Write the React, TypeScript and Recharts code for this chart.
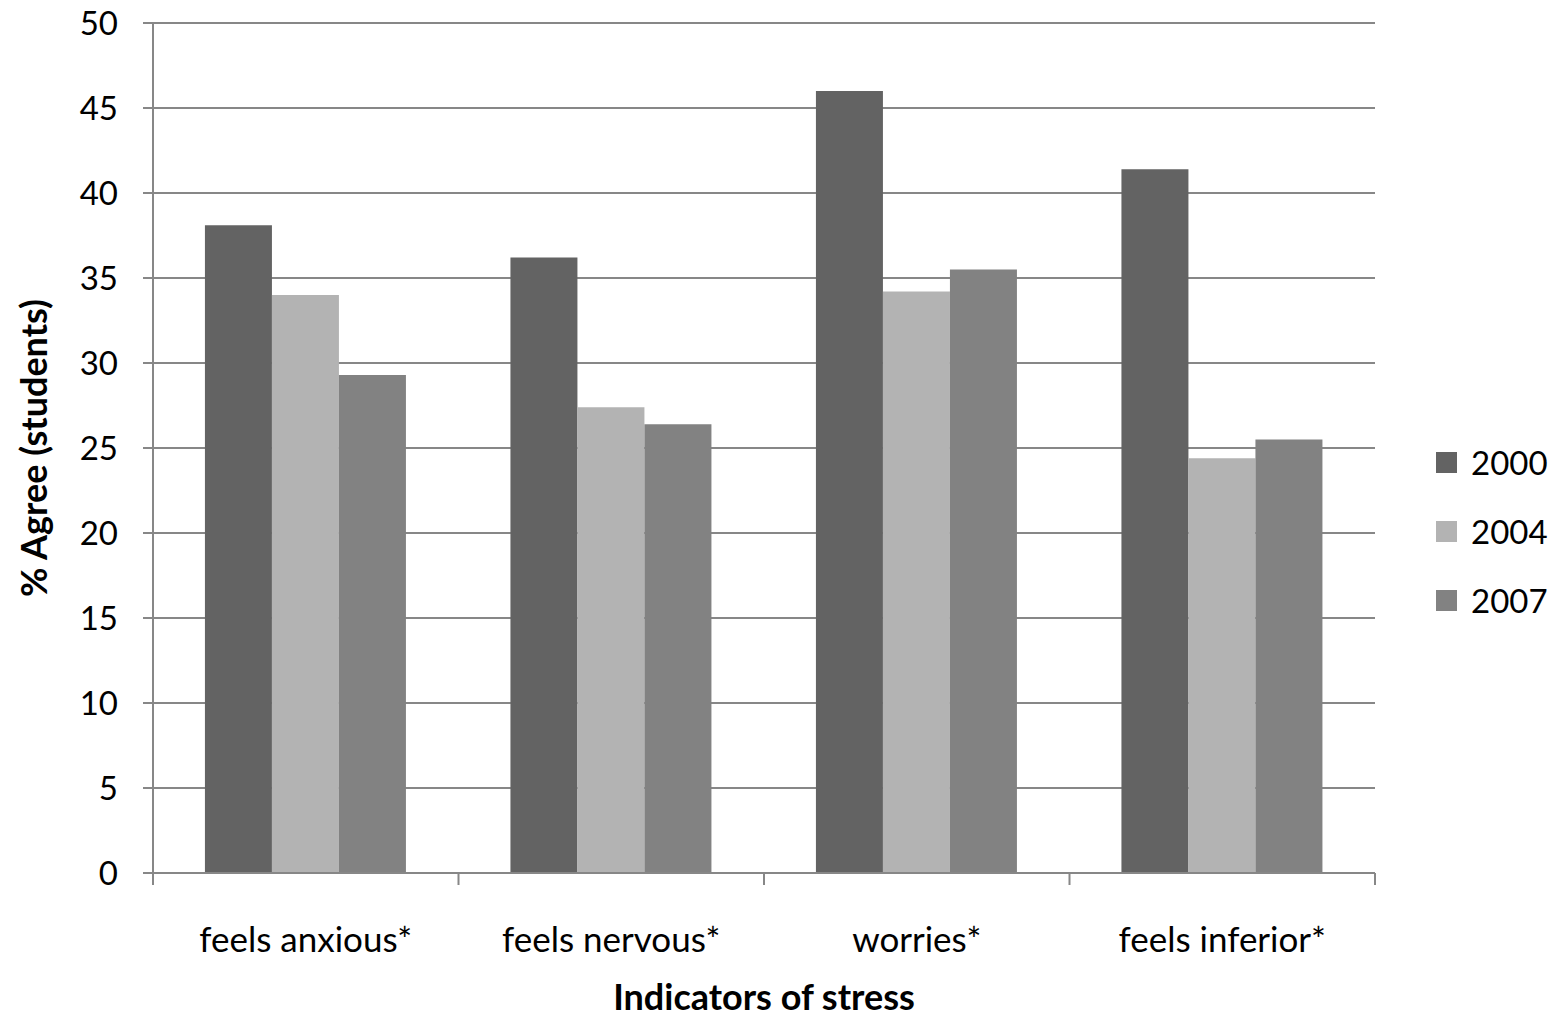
import React from 'react';
import { BarChart, Bar, XAxis, YAxis, CartesianGrid, Legend, Label } from 'recharts';

const categories = ['feels anxious*', 'feels nervous*', 'worries*', 'feels inferior*'];
const values2000 = [38.1, 36.2, 46.0, 41.4];
const values2004 = [34.0, 27.4, 34.2, 24.4];
const values2007 = [29.3, 26.4, 35.5, 25.5];
const yTicks = [0, 5, 10, 15, 20, 25, 30, 35, 40, 45, 50];

const seriesNames = ['2000', '2004', '2007'];
const seriesColors = ['#636363', '#b3b3b3', '#828282'];

const data = categories.map((c, i) => ({
  category: c,
  y2000: values2000[i],
  y2004: values2004[i],
  y2007: values2007[i],
}));

const FONT = 'Lato, "Open Sans", sans-serif';
const GRID = '#878787';
const X_TICK_SIZE = 12;
const X_TICK_MARGIN = 42;

const CategoryTick = (props: any) => {
  const { x, y, payload, index, visibleTicksCount } = props;
  const half = payload && payload.offset ? payload.offset : 0;
  const axisY = y - X_TICK_SIZE - X_TICK_MARGIN;
  const isLast = index === (visibleTicksCount ?? categories.length) - 1;
  return (
    <g>
      <line x1={x - half} x2={x - half} y1={axisY} y2={axisY + X_TICK_SIZE} stroke={GRID} strokeWidth={2} />
      {isLast && (
        <line x1={x + half} x2={x + half} y1={axisY} y2={axisY + X_TICK_SIZE} stroke={GRID} strokeWidth={2} />
      )}
      <text x={x} y={y} dy="0.71em" textAnchor="middle" fill="#000" fontSize={35} fontFamily={FONT}>
        {payload.value}
      </text>
    </g>
  );
};

const renderLegend = () => (
  <div style={{ fontFamily: FONT, fontSize: 33, color: '#000', lineHeight: 1 }}>
    {seriesNames.map((n, i) => (
      <div key={n} style={{ display: 'flex', alignItems: 'center', height: 69 }}>
        <div style={{ width: 21, height: 21, background: seriesColors[i], marginRight: 14 }} />
        <span>{n}</span>
      </div>
    ))}
  </div>
);

export default function App() {
  return (
    <div style={{ position: 'absolute', left: 0, top: 0, width: 1556, height: 1020, background: '#fff' }}>
      <BarChart
        width={1556}
        height={1020}
        data={data}
        margin={{ top: 23, right: 181, bottom: 0, left: 0 }}
        barCategoryGap="17%"
        barGap={0}
      >
        <CartesianGrid vertical={false} stroke={GRID} strokeWidth={2} />
        <XAxis
          dataKey="category"
          height={147}
          tickLine={false}
          axisLine={{ stroke: GRID, strokeWidth: 2 }}
          tickSize={X_TICK_SIZE}
          tickMargin={X_TICK_MARGIN}
          tick={<CategoryTick />}
          interval={0}
        >
          <Label
            value="Indicators of stress"
            position="insideBottom"
            offset={10}
            style={{ fill: '#000', fontSize: 36, fontWeight: 700, fontFamily: FONT }}
          />
        </XAxis>
        <YAxis
          width={153}
          domain={[0, 50]}
          ticks={yTicks}
          interval={0}
          axisLine={{ stroke: GRID, strokeWidth: 2 }}
          tickLine={{ stroke: GRID, strokeWidth: 2 }}
          tickSize={10}
          tickMargin={25}
          tick={{ fill: '#000', fontSize: 33, fontFamily: FONT }}
        >
          <Label
            value="% Agree (students)"
            angle={-90}
            position="insideLeft"
            offset={34}
            style={{ textAnchor: 'middle', fill: '#000', fontSize: 36, fontWeight: 700, fontFamily: FONT }}
          />
        </YAxis>
        <Legend
          layout="horizontal"
          align="center"
          verticalAlign="middle"
          content={renderLegend}
          wrapperStyle={{ left: 1436, top: 428, width: 120, right: 'auto', bottom: 'auto' }}
        />
        <Bar dataKey="y2000" name="2000" fill={seriesColors[0]} isAnimationActive={false} />
        <Bar dataKey="y2004" name="2004" fill={seriesColors[1]} isAnimationActive={false} />
        <Bar dataKey="y2007" name="2007" fill={seriesColors[2]} isAnimationActive={false} />
      </BarChart>
    </div>
  );
}
